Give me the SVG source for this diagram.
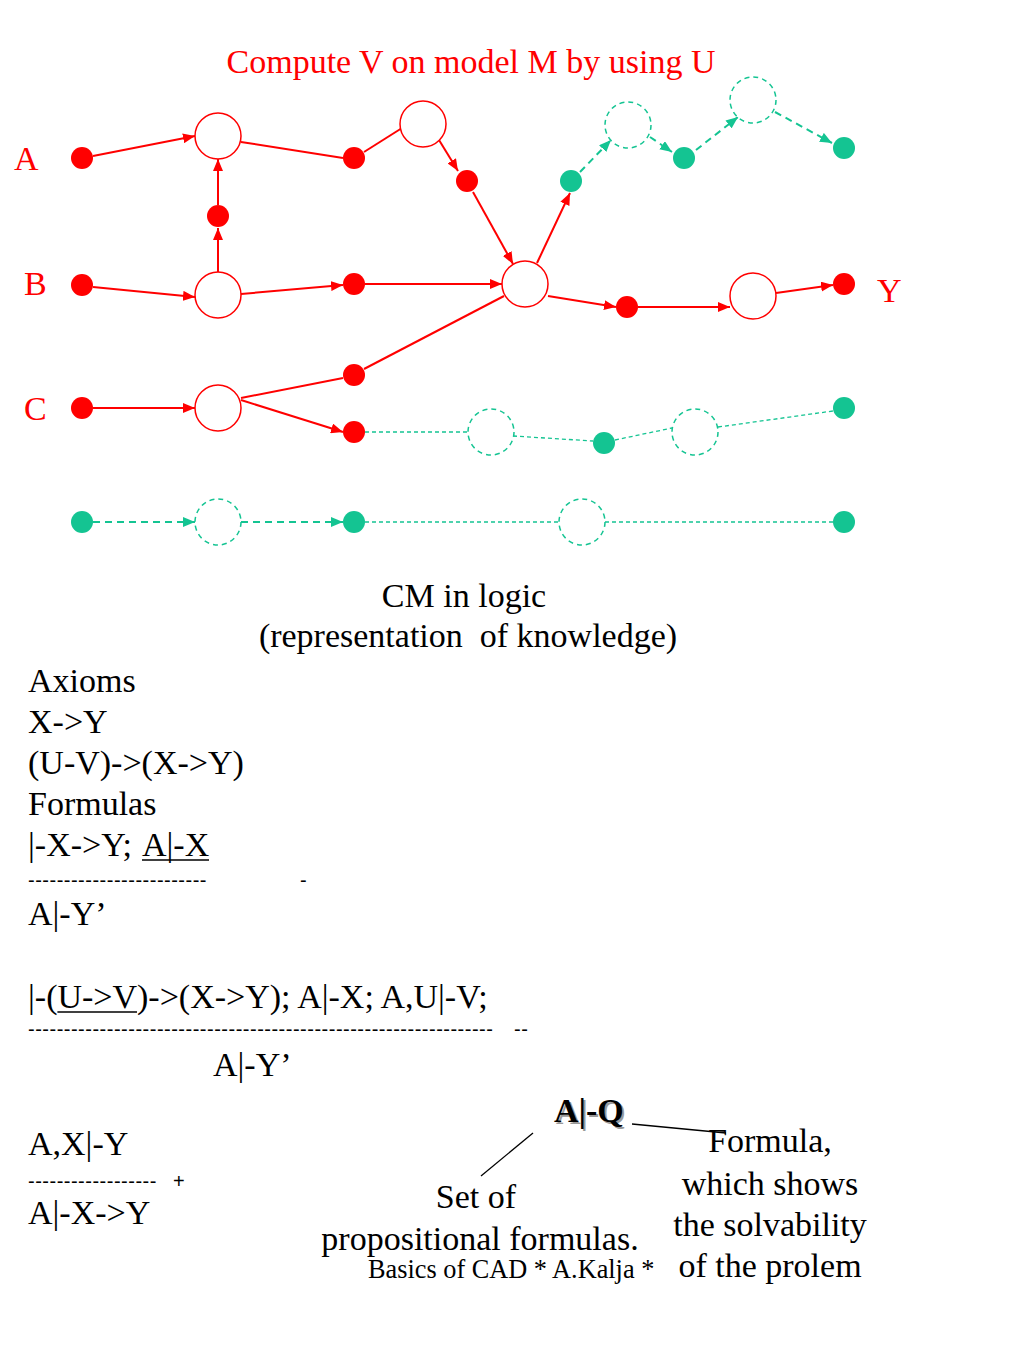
<svg xmlns="http://www.w3.org/2000/svg" width="1024" height="1365" viewBox="0 0 1024 1365">
<style>
text{font-family:"Liberation Serif","Times New Roman",serif;fill:#000;font-size:34px}
.red{fill:#ff0000}
.dot{fill:#ff0000}
.gdot{fill:#14c492}
.ring{fill:#fff;stroke:#ff0000;stroke-width:1.5}
.gring{fill:#fff;stroke:#14c492;stroke-width:1.5;stroke-dasharray:5,4}
.e{stroke:#ff0000;stroke-width:2;fill:none}
.ea{stroke:#ff0000;stroke-width:2;fill:none;marker-end:url(#ra)}
.g{stroke:#14c492;stroke-width:2;fill:none;stroke-dasharray:7,5;marker-end:url(#ga)}
.gt{stroke:#14c492;stroke-width:1.3;fill:none;stroke-dasharray:4,3}
.c{text-anchor:middle}
.dash{font-family:"Liberation Sans",Arial,sans-serif;font-size:20px;letter-spacing:0.5px}
.ul{stroke:#000;stroke-width:1.7}
.small{font-size:26.3px}
.shadow{fill:#9a9a9a;font-weight:bold}
.bold{font-weight:bold}
</style>
<defs>
<marker id="ra" viewBox="0 0 12 10" refX="12" refY="5" markerWidth="12" markerHeight="10" markerUnits="userSpaceOnUse" orient="auto"><path d="M0,0L12,5L0,10z" fill="#ff0000"/></marker>
<marker id="ga" viewBox="0 0 12 10" refX="12" refY="5" markerWidth="12" markerHeight="10" markerUnits="userSpaceOnUse" orient="auto"><path d="M0,0L12,5L0,10z" fill="#14c492"/></marker>
</defs>
<rect width="1024" height="1365" fill="#fff"/>
<text class="red c" x="471" y="73">Compute V on model M by using U</text>
<text class="red" x="14" y="170">A</text>
<text class="red" x="24" y="295">B</text>
<text class="red" x="24" y="420">C</text>
<text class="red" x="877" y="302">Y</text>
<g id="connectors">
<line class="ea" x1="93" y1="156" x2="195" y2="136"/>
<line class="e" x1="241" y1="142" x2="343" y2="158"/>
<line class="e" x1="364" y1="152" x2="402" y2="128"/>
<line class="ea" x1="439" y1="140" x2="458" y2="171"/>
<line class="ea" x1="473" y1="192" x2="513" y2="264"/>
<line class="ea" x1="93" y1="287" x2="195" y2="297"/>
<line class="ea" x1="218" y1="272" x2="218" y2="228"/>
<line class="ea" x1="218" y1="205" x2="218" y2="159"/>
<line class="ea" x1="241" y1="294" x2="343" y2="285"/>
<line class="ea" x1="365" y1="284" x2="502" y2="284"/>
<line class="ea" x1="537" y1="263" x2="570" y2="193"/>
<line class="ea" x1="548" y1="296" x2="616" y2="307"/>
<line class="ea" x1="638" y1="307" x2="730" y2="307"/>
<line class="ea" x1="776" y1="293" x2="833" y2="285"/>
<line class="ea" x1="93" y1="408" x2="195" y2="408"/>
<line class="e" x1="241" y1="398" x2="343" y2="378"/>
<line class="e" x1="364" y1="369" x2="504" y2="296"/>
<line class="ea" x1="241" y1="400" x2="343" y2="432"/>
<line class="g" x1="580" y1="172" x2="611" y2="140"/>
<line class="g" x1="650" y1="137" x2="672" y2="152"/>
<line class="g" x1="696" y1="150" x2="738" y2="117"/>
<line class="g" x1="775" y1="112" x2="832" y2="143"/>
<line class="gt" x1="365" y1="432" x2="468" y2="432"/>
<line class="gt" x1="513" y1="436" x2="593" y2="441"/>
<line class="gt" x1="615" y1="440" x2="672" y2="428"/>
<line class="gt" x1="718" y1="427" x2="833" y2="411"/>
<line class="g" x1="93" y1="522" x2="195" y2="522"/>
<line class="g" x1="241" y1="522" x2="343" y2="522"/>
<line class="gt" x1="365" y1="522" x2="559" y2="522"/>
<line class="gt" x1="605" y1="522" x2="833" y2="522"/>
</g>
<g id="nA0"><circle class="dot" cx="82" cy="158" r="11"/></g>
<g id="nO1"><circle class="ring" cx="218" cy="136" r="23"/></g>
<g id="nM1"><circle class="dot" cx="218" cy="216" r="11"/></g>
<g id="nB0"><circle class="dot" cx="82" cy="285" r="11"/></g>
<g id="nO2"><circle class="ring" cx="218" cy="295" r="23"/></g>
<g id="nA1"><circle class="dot" cx="354" cy="158" r="11"/></g>
<g id="nO3"><circle class="ring" cx="423" cy="124" r="23"/></g>
<g id="nA2"><circle class="dot" cx="467" cy="181" r="11"/></g>
<g id="nB1"><circle class="dot" cx="354" cy="284" r="11"/></g>
<g id="nO4"><circle class="ring" cx="525" cy="284" r="23"/></g>
<g id="nG1"><circle class="gdot" cx="571" cy="181" r="11"/></g>
<g id="nGR1"><circle class="gring" cx="628" cy="125" r="23"/></g>
<g id="nG2"><circle class="gdot" cx="684" cy="158" r="11"/></g>
<g id="nGR2"><circle class="gring" cx="753" cy="100" r="23"/></g>
<g id="nG3"><circle class="gdot" cx="844" cy="148" r="11"/></g>
<g id="nB2"><circle class="dot" cx="627" cy="307" r="11"/></g>
<g id="nO5"><circle class="ring" cx="753" cy="296" r="23"/></g>
<g id="nY"><circle class="dot" cx="844" cy="284" r="11"/></g>
<g id="nC0"><circle class="dot" cx="82" cy="408" r="11"/></g>
<g id="nO6"><circle class="ring" cx="218" cy="408" r="23"/></g>
<g id="nC1"><circle class="dot" cx="354" cy="375" r="11"/></g>
<g id="nC2"><circle class="dot" cx="354" cy="432" r="11"/></g>
<g id="nGR3"><circle class="gring" cx="491" cy="432" r="23"/></g>
<g id="nG4"><circle class="gdot" cx="604" cy="443" r="11"/></g>
<g id="nGR4"><circle class="gring" cx="695" cy="432" r="23"/></g>
<g id="nG5"><circle class="gdot" cx="844" cy="408" r="11"/></g>
<g id="nD0"><circle class="gdot" cx="82" cy="522" r="11"/></g>
<g id="nGR5"><circle class="gring" cx="218" cy="522" r="23"/></g>
<g id="nD1"><circle class="gdot" cx="354" cy="522" r="11"/></g>
<g id="nGR6"><circle class="gring" cx="582" cy="522" r="23"/></g>
<g id="nD2"><circle class="gdot" cx="844" cy="522" r="11"/></g>
<g id="logic">
<text class="c" x="464" y="607">CM in logic</text>
<text class="c" x="468" y="647" xml:space="preserve">(representation  of knowledge)</text>
<text x="28" y="692">Axioms</text>
<text x="28" y="733">X-&gt;Y</text>
<text x="28" y="774">(U-V)-&gt;(X-&gt;Y)</text>
<text x="28" y="815">Formulas</text>
<text x="28" y="856">|-X-&gt;Y;</text>
<text x="142" y="856">A|-X</text>
<line class="ul" x1="142" y1="860" x2="209" y2="860"/>
<text class="dash" x="28" y="887">-------------------------</text>
<text class="dash" x="300" y="887">-</text>
<text x="28" y="925">A|-Y’</text>
<text x="28" y="1008">|-(</text>
<text x="57.4" y="1008">U-&gt;V</text>
<line class="ul" x1="57.4" y1="1012" x2="137" y2="1012"/>
<text x="137" y="1008">)-&gt;(X-&gt;Y); A|-X; A,U|-V;</text>
<text class="dash" x="28" y="1036">-----------------------------------------------------------------</text>
<text class="dash" x="514" y="1036">--</text>
<text x="213" y="1076">A|-Y’</text>
<text x="28" y="1155">A,X|-Y</text>
<text class="dash" x="28" y="1188">------------------</text>
<text class="dash" x="173" y="1188">+</text>
<text x="28" y="1224">A|-X-&gt;Y</text>
</g>
<g id="aq">
<text class="shadow" x="556" y="1124">A|-Q</text>
<text class="bold" x="554" y="1122">A|-Q</text>
<line x1="533" y1="1133" x2="481" y2="1176" stroke="#000" stroke-width="1.3"/>
<line x1="632" y1="1124" x2="726" y2="1133" stroke="#000" stroke-width="1.3"/>
<text class="c" x="770" y="1152">Formula,</text>
<text class="c" x="770" y="1195">which shows</text>
<text class="c" x="770" y="1236">the solvability</text>
<text class="c" x="770" y="1277">of the prolem</text>
<text class="c" x="476" y="1208">Set of</text>
<text class="c" x="480" y="1250">propositional formulas.</text>
<text class="small" x="368" y="1278">Basics of CAD * A.Kalja *</text>
</g>
</svg>
